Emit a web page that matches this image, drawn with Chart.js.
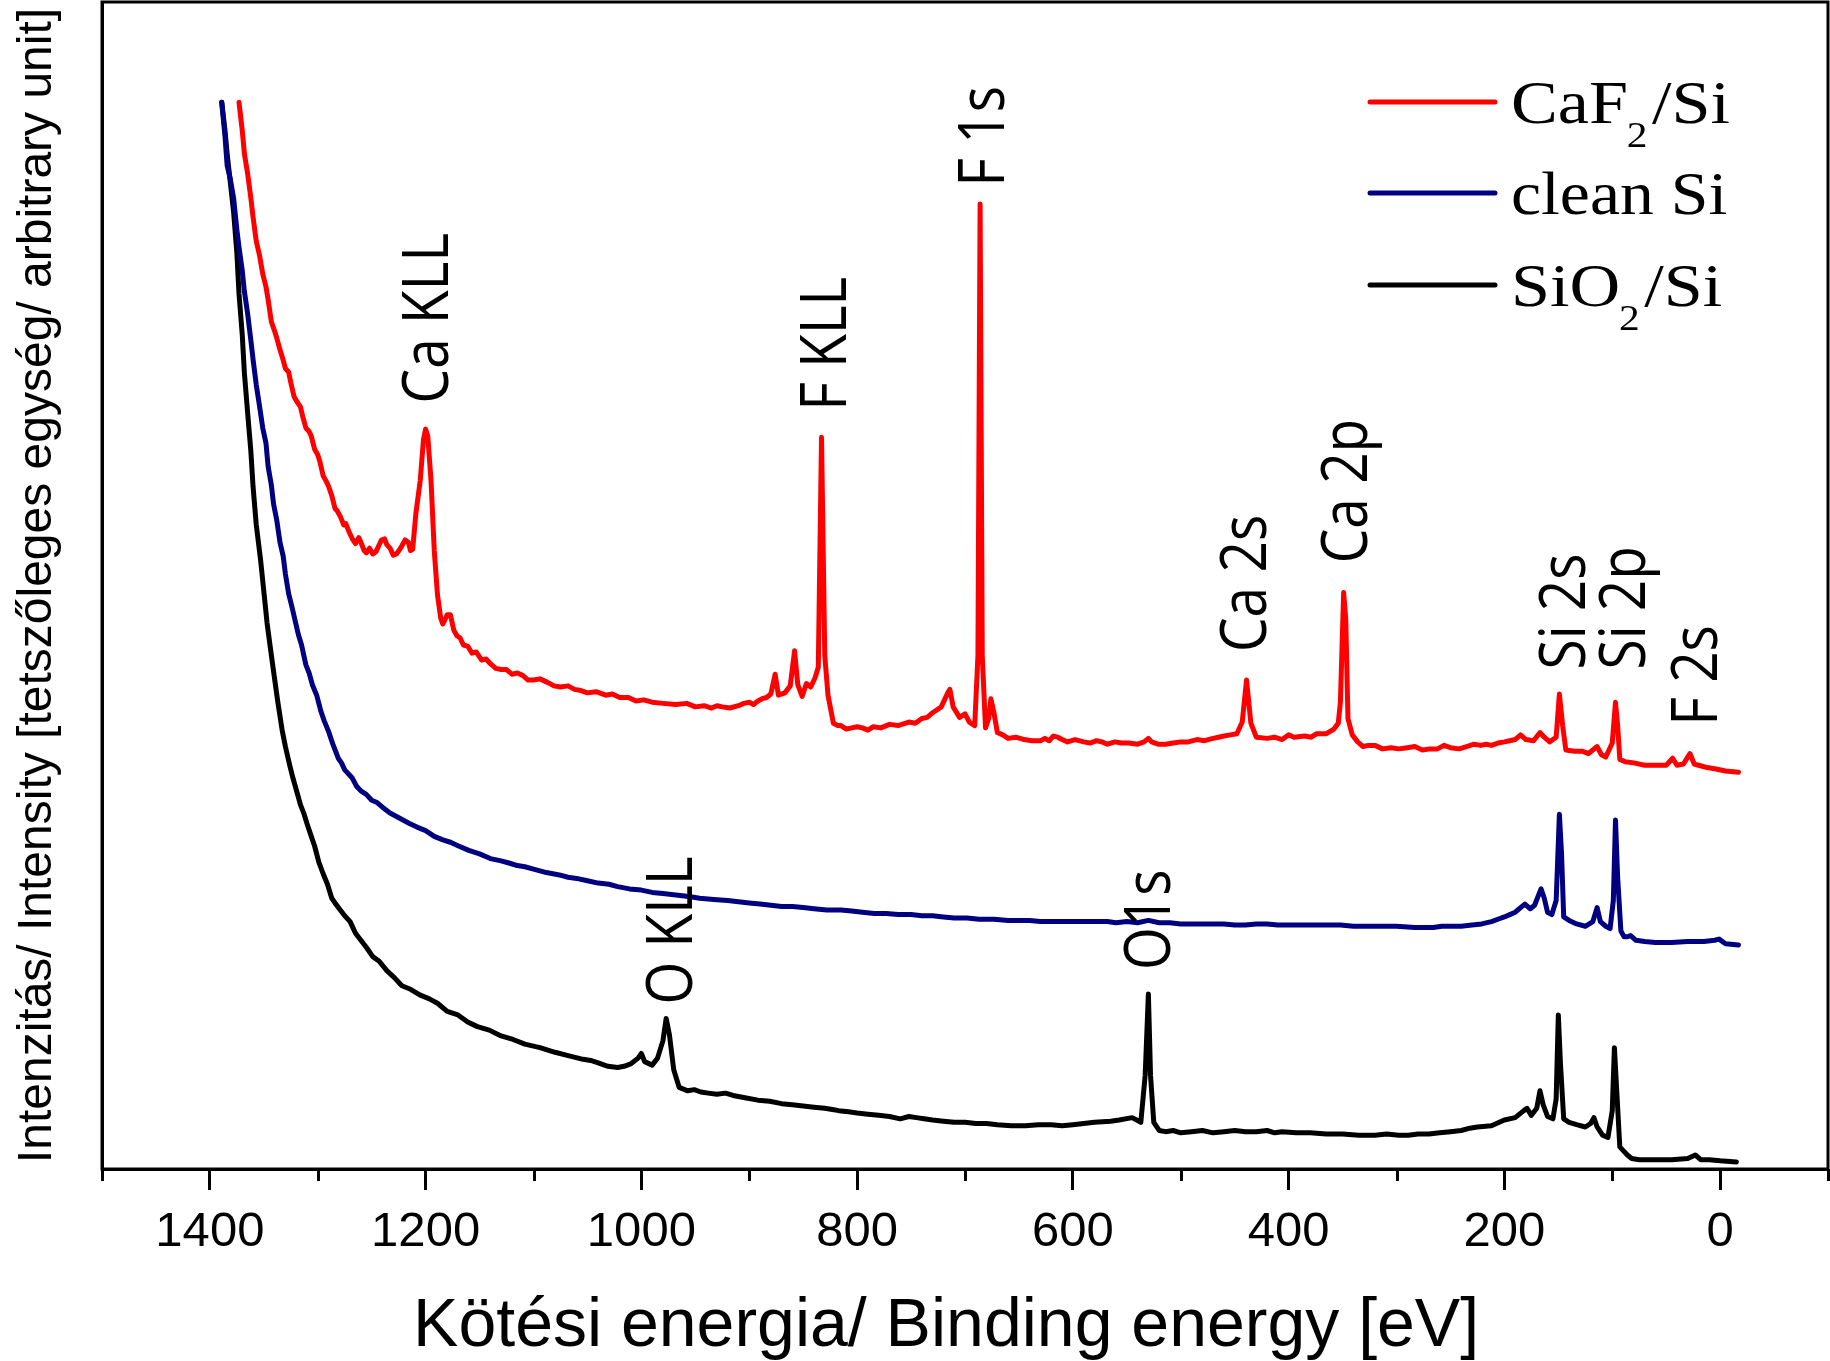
<!DOCTYPE html>
<html lang="en">
<head>
<meta charset="UTF-8">
<title>XPS survey spectra</title>
<style>
  html, body { margin: 0; padding: 0; background: #fff; }
  #wrap { width: 1830px; height: 1361px; }
</style>
</head>
<body>
<div id="wrap"><canvas id="xps" width="1830" height="1361"></canvas></div>
<script src="https://cdn.jsdelivr.net/npm/chart.js@4.4.0/dist/chart.umd.min.js"></script>
<script>
// tick values of the binding energy axis (eV)
const xTicks = [1400, 1200, 1000, 800, 600, 400, 200, 0]
const xMinorTicks = [1500, 1300, 1100, 900, 700, 500, 300, 100, -100]

// CaF2/Si spectrum (binding energy eV, intensity arb. units)
const caf2E = [1373, 1370, 1368, 1365, 1362, 1360, 1357, 1354, 1351, 1348, 1346, 1343, 1340, 1338, 1335, 1332, 1330, 1327, 1325, 1322,
  1319, 1316, 1314, 1311, 1308, 1306, 1303, 1300, 1298, 1295, 1292, 1290, 1287, 1284, 1282, 1279, 1276, 1274, 1271, 1268,
  1265, 1262, 1260, 1257, 1255, 1252, 1249, 1246, 1244, 1241, 1238, 1236, 1233, 1230, 1227, 1224, 1222, 1219, 1216, 1214,
  1212, 1209, 1205, 1202, 1200, 1198, 1195, 1192, 1189, 1186, 1184, 1180, 1177, 1174, 1171, 1168, 1165, 1161, 1157, 1153,
  1148, 1144, 1140, 1135, 1130, 1125, 1120, 1115, 1110, 1105, 1100, 1094, 1087, 1081, 1075, 1068, 1062, 1056, 1050, 1042,
  1033, 1027, 1020, 1012, 1005, 998, 990, 980, 968, 958, 950, 942, 935, 930, 925, 918, 910, 905, 900, 896,
  892, 888, 884, 880, 876, 873, 867, 862, 858, 855, 851, 847, 843, 839, 836, 833, 830, 827, 822, 818,
  815, 810, 805, 800, 795, 790, 785, 778, 770, 762, 752, 746, 740, 735, 730, 722, 716, 714, 711, 705,
  700, 696, 691, 688, 686, 684, 681, 678, 676, 673, 670, 665, 660, 653, 645, 638, 630, 626, 622, 618,
  614, 610, 605, 598, 590, 584, 578, 573, 568, 561, 555, 548, 540, 534, 530, 527, 521, 514, 507, 500,
  493, 485, 478, 470, 465, 460, 454, 448, 443, 439, 435, 430, 420, 413, 406, 400, 395, 385, 379, 374,
  365, 358, 354, 352, 349, 347, 345, 341, 336, 331, 326, 320, 313, 305, 298, 290, 283, 276, 269, 262,
  256, 250, 242, 235, 228, 222, 217, 212, 206, 200, 195, 190, 185, 180, 173, 167, 163, 158, 152, 149,
  146, 143, 135, 128, 122, 118, 114, 110, 106, 100, 97, 95, 93, 88, 80, 70, 60, 50, 44, 40,
  34, 28, 24, 20, 12, 5, -5, -17]
const caf2I = [91.4, 89.0, 87.0, 85.3, 83.2, 81.6, 79.5, 78.3, 76.7, 75.6, 74.5, 72.6, 71.8, 71.2, 70.2, 69.3, 68.6, 68.3, 67.4, 66.2,
  65.7, 65.3, 64.5, 63.5, 63.2, 62.8, 61.7, 61.2, 60.6, 59.4, 58.9, 58.5, 57.7, 56.6, 56.4, 55.9, 55.2, 55.3, 54.6, 54.0,
  53.6, 54.1, 53.7, 53.0, 52.8, 53.2, 52.7, 52.9, 53.3, 53.9, 54.0, 53.5, 53.2, 52.6, 52.7, 53.1, 53.4, 53.9, 53.7, 53.0,
  53.1, 56.2, 59.0, 62.5, 63.4, 62.8, 59.0, 53.0, 49.2, 47.2, 46.7, 47.5, 47.5, 46.2, 45.7, 45.5, 44.9, 44.8, 44.2, 44.3,
  43.6, 43.7, 43.3, 42.9, 42.8, 42.8, 42.4, 42.5, 42.3, 41.9, 41.9, 42.0, 41.7, 41.4, 41.3, 41.4, 41.1, 41.0, 40.8, 40.9,
  40.6, 40.7, 40.4, 40.4, 40.1, 40.2, 40.0, 39.9, 39.8, 39.9, 39.6, 39.7, 39.5, 39.7, 39.6, 39.5, 39.7, 39.9, 40.0, 39.8,
  40.1, 40.3, 40.4, 40.7, 42.4, 40.6, 40.8, 41.4, 44.4, 41.5, 40.5, 41.6, 41.3, 42.1, 43.0, 62.7, 44.0, 40.6, 38.2, 38.0,
  38.0, 37.7, 37.8, 37.9, 37.8, 37.6, 37.9, 37.8, 38.1, 38.0, 38.3, 38.2, 38.6, 38.7, 39.1, 39.6, 40.8, 41.1, 39.6, 38.7,
  39.0, 38.3, 38.0, 44.0, 82.7, 44.0, 37.8, 38.6, 40.3, 39.0, 37.4, 37.2, 36.9, 37.0, 36.8, 36.7, 36.7, 36.9, 36.7, 37.1,
  37.0, 36.8, 36.6, 36.8, 36.6, 36.5, 36.7, 36.6, 36.4, 36.6, 36.5, 36.5, 36.4, 36.6, 36.9, 36.6, 36.4, 36.4, 36.5, 36.6,
  36.6, 36.8, 36.7, 36.9, 37.0, 37.1, 37.2, 37.3, 38.3, 41.9, 38.2, 37.0, 36.9, 37.0, 36.8, 37.2, 37.0, 37.1, 37.0, 37.3,
  37.3, 37.7, 38.2, 40.0, 49.4, 47.0, 38.6, 37.2, 36.6, 36.2, 36.3, 36.3, 36.0, 36.1, 36.0, 36.1, 36.2, 35.9, 36.0, 36.0,
  36.3, 36.1, 36.0, 36.2, 36.4, 36.3, 36.4, 36.3, 36.5, 36.6, 36.7, 36.8, 37.2, 36.8, 36.7, 37.4, 37.0, 36.6, 37.0, 40.7,
  38.0, 35.9, 35.8, 35.8, 35.6, 35.9, 36.2, 35.5, 35.3, 36.5, 40.0, 38.0, 35.1, 34.9, 34.8, 34.6, 34.6, 34.6, 35.2, 34.6,
  34.7, 35.6, 34.7, 34.6, 34.4, 34.3, 34.1, 34.0]

// clean Si spectrum
const cleanE = [1389, 1386, 1384, 1381, 1378, 1375, 1373, 1370, 1368, 1365, 1362, 1360, 1357, 1354, 1351, 1348, 1346, 1343, 1341, 1338,
  1335, 1332, 1330, 1327, 1324, 1321, 1318, 1315, 1311, 1308, 1305, 1301, 1297, 1294, 1290, 1286, 1281, 1278, 1275, 1271,
  1268, 1264, 1260, 1255, 1250, 1245, 1240, 1233, 1227, 1221, 1215, 1208, 1200, 1192, 1184, 1177, 1170, 1160, 1150, 1140,
  1130, 1122, 1115, 1108, 1100, 1088, 1076, 1068, 1060, 1050, 1040, 1030, 1022, 1011, 1000, 990, 980, 970, 960, 953,
  946, 933, 920, 910, 900, 890, 880, 870, 860, 850, 840, 828, 815, 805, 795, 784, 773, 762, 750, 740,
  730, 720, 710, 698, 687, 673, 660, 650, 640, 630, 620, 610, 600, 590, 580, 568, 560, 550, 540, 530,
  520, 510, 500, 490, 480, 470, 460, 450, 440, 430, 420, 410, 400, 390, 380, 366, 352, 340, 330, 315,
  300, 283, 266, 258, 250, 240, 230, 221, 212, 206, 200, 195, 190, 185, 181, 176, 172, 166, 163, 160,
  156, 152, 149, 147, 145, 140, 133, 125, 118, 114, 111, 106, 102, 99, 97, 95, 92, 89, 86, 83,
  78, 70, 60, 45, 30, 15, 5, 1, -5, -17]
const cleanI = [91.4, 88.5, 86.0, 84.8, 83.2, 80.5, 79.0, 77.0, 75.2, 73.3, 71.0, 69.4, 67.2, 65.4, 63.5, 62.2, 60.2, 58.6, 57.0, 55.6,
  53.7, 52.5, 51.0, 49.3, 48.2, 47.0, 45.8, 44.9, 43.2, 42.5, 41.5, 40.6, 39.2, 38.4, 37.5, 36.4, 35.2, 34.8, 34.2, 33.8,
  33.5, 32.8, 32.4, 32.1, 31.6, 31.4, 31.0, 30.5, 30.2, 29.9, 29.6, 29.3, 29.0, 28.5, 28.2, 28.0, 27.7, 27.3, 27.0, 26.6,
  26.4, 26.2, 26.0, 25.9, 25.7, 25.4, 25.2, 25.0, 24.9, 24.7, 24.5, 24.4, 24.2, 24.0, 23.9, 23.7, 23.6, 23.5, 23.4, 23.3,
  23.2, 23.1, 23.0, 22.9, 22.8, 22.7, 22.6, 22.5, 22.5, 22.4, 22.3, 22.2, 22.2, 22.1, 22.0, 21.9, 21.9, 21.8, 21.8, 21.7,
  21.7, 21.6, 21.5, 21.5, 21.4, 21.4, 21.3, 21.3, 21.3, 21.2, 21.2, 21.2, 21.2, 21.2, 21.2, 21.2, 21.1, 21.2, 21.1, 21.3,
  21.1, 21.1, 21.0, 21.0, 21.0, 21.0, 21.0, 20.9, 20.9, 21.0, 21.0, 20.9, 20.9, 20.9, 20.9, 20.9, 20.9, 20.8, 20.8, 20.8,
  20.8, 20.7, 20.7, 20.8, 20.8, 20.8, 20.9, 21.0, 21.2, 21.4, 21.6, 21.8, 22.0, 22.4, 22.7, 22.3, 22.6, 24.0, 23.2, 22.0,
  21.8, 23.0, 30.4, 27.0, 21.6, 21.3, 21.0, 20.8, 21.2, 22.4, 21.2, 20.8, 20.6, 23.0, 29.9, 25.0, 20.4, 19.9, 19.9, 20.0,
  19.6, 19.5, 19.4, 19.4, 19.5, 19.5, 19.6, 19.7, 19.3, 19.2]

// SiO2/Si spectrum
const sio2E = [1389, 1386, 1384, 1381, 1378, 1375, 1373, 1370, 1368, 1365, 1362, 1360, 1357, 1353, 1350, 1347, 1344, 1340, 1337, 1333,
  1330, 1326, 1323, 1319, 1316, 1313, 1310, 1306, 1303, 1299, 1295, 1291, 1287, 1284, 1280, 1275, 1270, 1265, 1260, 1255,
  1249, 1243, 1236, 1229, 1222, 1214, 1205, 1197, 1189, 1180, 1170, 1161, 1152, 1141, 1130, 1119, 1108, 1094, 1080, 1067,
  1054, 1047, 1040, 1031, 1022, 1016, 1010, 1003, 1000, 997, 990, 985, 980, 977, 974, 970, 965, 957, 951, 945,
  938, 930, 922, 915, 904, 892, 881, 870, 860, 850, 840, 830, 823, 817, 808, 800, 790, 780, 770, 760,
  752, 745, 738, 730, 720, 710, 700, 690, 680, 670, 657, 644, 632, 620, 610, 600, 590, 580, 565, 557,
  545, 537, 533, 530, 528, 525, 520, 514, 507, 500, 490, 480, 470, 460, 450, 440, 430, 420, 413, 406,
  393, 380, 365, 350, 335, 320, 309, 298, 289, 280, 270, 260, 250, 240, 232, 225, 212, 200, 190, 182,
  179, 175, 170, 167, 164, 160, 155, 152, 150, 148, 145, 140, 133, 125, 120, 117, 114, 109, 104, 100,
  98, 96, 93, 90, 86, 82, 75, 60, 45, 30, 23, 18, 10, 0, -15]
const sio2I = [91.4, 89.0, 87.0, 84.5, 82.0, 78.5, 75.0, 71.5, 68.2, 64.8, 61.5, 58.5, 55.2, 52.2, 49.5, 46.8, 44.7, 42.0, 40.0, 37.6,
  36.2, 34.6, 33.5, 32.2, 31.2, 30.5, 29.6, 28.5, 27.7, 26.3, 25.3, 24.4, 23.2, 22.8, 22.3, 21.7, 21.2, 20.2, 19.6, 19.0,
  18.2, 17.8, 17.0, 16.4, 15.7, 15.4, 14.9, 14.6, 14.2, 13.5, 13.2, 12.6, 12.2, 11.9, 11.4, 11.1, 10.7, 10.4, 10.0, 9.7,
  9.4, 9.3, 9.1, 8.8, 8.7, 8.8, 9.0, 9.5, 9.9, 9.2, 8.9, 9.5, 11.0, 12.9, 11.5, 8.5, 7.0, 6.7, 6.8, 6.6,
  6.5, 6.4, 6.5, 6.3, 6.1, 5.9, 5.8, 5.6, 5.5, 5.4, 5.3, 5.2, 5.1, 5.0, 4.9, 4.8, 4.7, 4.6, 4.5, 4.3,
  4.5, 4.4, 4.3, 4.2, 4.1, 4.0, 4.0, 3.9, 3.9, 3.8, 3.7, 3.7, 3.8, 3.8, 3.7, 3.8, 3.9, 4.0, 4.1, 4.2,
  4.4, 4.0, 8.0, 15.0, 8.0, 4.0, 3.3, 3.2, 3.3, 3.1, 3.2, 3.3, 3.1, 3.2, 3.3, 3.2, 3.2, 3.3, 3.1, 3.2,
  3.1, 3.1, 3.0, 3.0, 2.9, 2.9, 3.0, 2.9, 2.9, 3.0, 3.0, 3.1, 3.2, 3.3, 3.5, 3.6, 3.7, 4.2, 4.4, 5.0,
  5.2, 4.6, 5.2, 6.7, 5.5, 4.5, 4.3, 6.0, 13.2, 9.0, 4.3, 4.0, 3.8, 3.6, 3.9, 4.4, 3.6, 2.9, 2.7, 5.0,
  10.4, 7.0, 1.9, 1.6, 1.2, 0.9, 0.8, 0.8, 0.8, 0.9, 1.2, 0.8, 0.8, 0.7, 0.6]

// peak annotations: text, energy of label centre, intensity where the text starts
const peakLabels = ['Ca KLL', 'F KLL', 'F 1s', 'Ca 2s', 'Ca 2p', 'Si 2s', 'Si 2p', 'F 2s', 'O KLL', 'O1s']
const peakEnergy = [1201, 832, 685, 442, 349, 147, 91, 24, 975, 531]
const peakLevel = [65.6, 65.0, 84.2, 44.3, 51.9, 42.8, 42.8, 38.0, 14.1, 17.05]

// legend entries: main text, subscript, rest
const legendParts = [['CaF', '2', '/Si'], ['clean Si', '', ''], ['SiO', '2', '/Si']]

const sans = '"Liberation Sans", Arial, sans-serif'
const serif = '"Liberation Serif", serif'

const decor = {
  id: 'decor',
  afterDraw(chart) {
    const ctx = chart.ctx
    const a = chart.chartArea
    const xs = chart.scales.x
    const ys = chart.scales.y
    ctx.save()
    ctx.strokeStyle = '#000'
    ctx.lineWidth = 3
    ctx.strokeRect(a.left, a.top, a.right - a.left, a.bottom - a.top)

    // minor ticks
    ctx.beginPath()
    xMinorTicks.forEach(v => {
      const px = Math.round(xs.getPixelForValue(v)) + 0.5
      ctx.moveTo(px, a.bottom)
      ctx.lineTo(px, a.bottom + 12)
    })
    ctx.stroke()

    // peak labels, rotated
    const fs = 55
    ctx.fillStyle = '#000'
    ctx.font = fs + 'px "Open Sans", "Noto Sans", sans-serif'
    ctx.textAlign = 'left'
    ctx.textBaseline = 'alphabetic'
    peakLabels.forEach((t, i) => {
      ctx.save()
      ctx.translate(xs.getPixelForValue(peakEnergy[i]), ys.getPixelForValue(peakLevel[i]))
      ctx.rotate(-Math.PI / 2)
      ctx.scale(1, 1.18)
      ctx.fillText(t, 0, fs * 0.357)
      ctx.restore()
    })

    // legend
    const legendY = [102, 193, 285]
    ctx.lineCap = 'round'
    ctx.lineWidth = 5
    chart.data.datasets.forEach((ds, i) => {
      const y = legendY[i]
      ctx.strokeStyle = ds.borderColor
      ctx.beginPath()
      ctx.moveTo(1370, y)
      ctx.lineTo(1495, y)
      ctx.stroke()

      const [main, sub, rest] = legendParts[i]
      ctx.save()
      ctx.translate(1511, y + 21)
      ctx.scale(sub ? 1.15 : 1.11, 1)
      ctx.fillStyle = '#000'
      ctx.font = '61px ' + serif
      ctx.fillText(main, 0, 0)
      let x = ctx.measureText(main).width
      if (sub) {
        ctx.font = '36px ' + serif
        ctx.fillText(sub, x - 1, 24)
        x += ctx.measureText(sub).width + 3
        ctx.font = '61px ' + serif
        ctx.fillText(rest, x, 0)
      }
      ctx.restore()
    })
    ctx.restore()
  }
}

const toPoints = (ex, iy) => ex.map((e, i) => ({ x: e, y: iy[i] }))

new Chart(document.getElementById('xps'), {
  type: 'line',
  data: {
    datasets: [
      { label: 'CaF2/Si', data: toPoints(caf2E, caf2I), borderColor: '#ff0000' },
      { label: 'clean Si', data: toPoints(cleanE, cleanI), borderColor: '#000080' },
      { label: 'SiO2/Si', data: toPoints(sio2E, sio2I), borderColor: '#000000' }
    ]
  },
  options: {
    responsive: false,
    animation: false,
    devicePixelRatio: 1,
    layout: { padding: { top: 2, right: 2, left: 0, bottom: 0 } },
    elements: {
      point: { radius: 0 },
      line: { borderWidth: 5, tension: 0, borderJoinStyle: 'round', borderCapStyle: 'round' }
    },
    plugins: { legend: { display: false }, tooltip: { enabled: false } },
    scales: {
      x: {
        type: 'linear',
        reverse: true,
        min: -100,
        max: 1500,
        afterBuildTicks: s => { s.ticks = xTicks.map(v => ({ value: v })) },
        afterFit: s => { s.height = 192 },
        ticks: {
          color: '#000',
          font: { family: sans, size: 49 },
          padding: 13,
          maxRotation: 0,
          autoSkip: false,
          callback: v => String(v)
        },
        grid: { drawOnChartArea: false, drawTicks: true, tickLength: 21, tickWidth: 3, tickColor: '#000' },
        border: { display: true, color: '#000', width: 3 },
        title: {
          display: true,
          text: 'Kötési energia/ Binding energy [eV]\u00a0\u00a0',
          color: '#000',
          font: { family: sans, size: 68, lineHeight: 1 },
          padding: 0
        }
      },
      y: {
        min: 0,
        max: 100,
        afterFit: s => { s.width = 102 },
        ticks: { display: false },
        grid: { display: false, drawTicks: false },
        border: { display: true, color: '#000', width: 3 },
        title: {
          display: true,
          text: 'Intenzitás/ Intensity [tetszőleges egység/ arbitrary unit]',
          color: '#000',
          font: { family: sans, size: 48, lineHeight: 1.2 },
          padding: { top: 9, bottom: 0 }
        }
      }
    }
  },
  plugins: [decor]
})
</script>
</body>
</html>
